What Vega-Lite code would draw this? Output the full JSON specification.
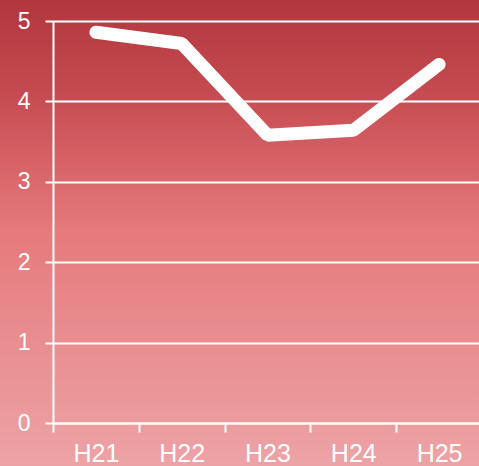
{
  "$schema": "https://vega.github.io/schema/vega-lite/v6.json",
  "width": 479,
  "height": 466,
  "padding": 0,
  "autosize": {"type": "none"},
  "config": {
    "font": "Liberation Sans",
    "view": {
      "stroke": null,
      "fill": {
        "gradient": "linear",
        "x1": 0, "y1": 0, "x2": 0, "y2": 1,
        "stops": [
          {"offset": 0, "color": "#b2363d"},
          {"offset": 0.2, "color": "#c64b51"},
          {"offset": 0.5, "color": "#e67a7c"},
          {"offset": 0.75, "color": "#e98f92"},
          {"offset": 1, "color": "#eda3a6"}
        ]
      }
    }
  },
  "data": {
    "values": [
      {"year": "H21", "value": 4.86},
      {"year": "H22", "value": 4.72},
      {"year": "H23", "value": 3.58},
      {"year": "H24", "value": 3.64},
      {"year": "H25", "value": 4.46}
    ]
  },
  "mark": {
    "type": "line",
    "color": "#ffffff",
    "strokeWidth": 13,
    "strokeCap": "round",
    "strokeJoin": "bevel",
    "clip": false
  },
  "encoding": {
    "x": {
      "field": "year",
      "type": "nominal",
      "sort": null,
      "scale": {"type": "band", "range": [53, 482], "paddingInner": 0, "paddingOuter": 0},
      "axis": {
        "title": null,
        "orient": "bottom",
        "offset": -43,
        "domain": true,
        "domainColor": "#ffffff",
        "domainWidth": 2,
        "ticks": true,
        "tickBand": "extent",
        "tickColor": "#ffffff",
        "tickWidth": 2,
        "tickSize": 9,
        "grid": false,
        "labelAngle": 0,
        "labelColor": "#ffffff",
        "labelFontSize": 25,
        "labelPadding": 9,
        "labelFont": "Liberation Sans"
      }
    },
    "y": {
      "field": "value",
      "type": "quantitative",
      "scale": {"domain": [0, 5], "range": [423, 21], "nice": false, "zero": true},
      "axis": {
        "title": null,
        "orient": "left",
        "offset": -53,
        "values": [0, 1, 2, 3, 4, 5],
        "domain": true,
        "domainColor": "#ffffff",
        "domainWidth": 2,
        "ticks": true,
        "tickColor": "#ffffff",
        "tickWidth": 2,
        "tickSize": 8,
        "grid": true,
        "gridColor": "#ffffff",
        "gridWidth": 2,
        "gridOpacity": 1,
        "labelColor": "#ffffff",
        "labelFontSize": 23,
        "labelPadding": 15,
        "labelFont": "Liberation Sans"
      }
    }
  }
}
